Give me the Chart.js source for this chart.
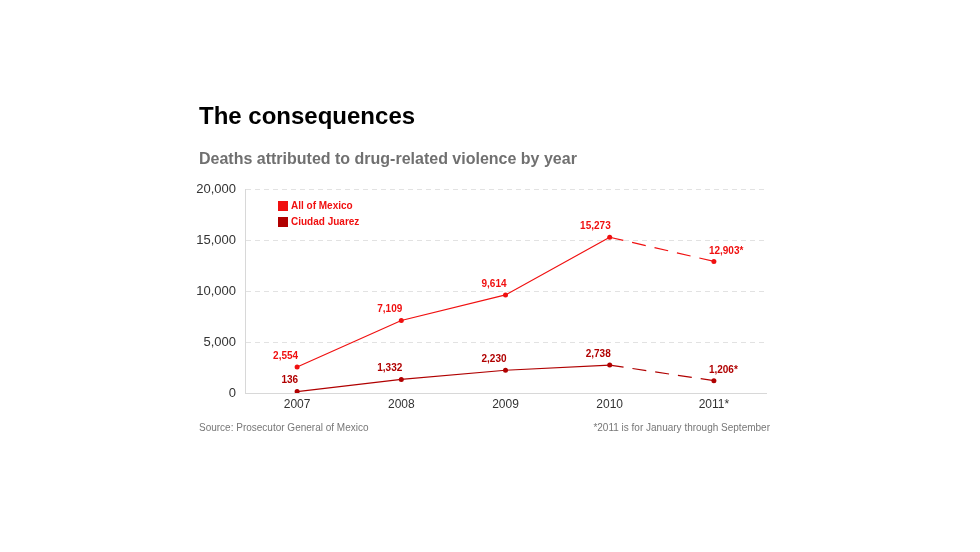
<!DOCTYPE html>
<html>
<head>
<meta charset="utf-8">
<script src="https://cdn.jsdelivr.net/npm/chart.js@4.4.1/dist/chart.umd.min.js"></script>
<style>
  html, body { margin: 0; padding: 0; background: #fff; }
  body { width: 980px; height: 552px; position: relative; overflow: hidden; font-family: Arial, "Liberation Sans", Helvetica, sans-serif; }
  #wrap { position: absolute; left: 0; top: 0; width: 980px; height: 552px; }
  .txt { position: absolute; white-space: nowrap; }
  #title { left: 199px; top: 102px; font-size: 24px; font-weight: bold; color: #000; }
  #subtitle { left: 199px; top: 150px; font-size: 16px; font-weight: bold; color: #707070; }
  #source { left: 199px; top: 422px; font-size: 10px; color: #777; }
  #note { right: 210px; top: 422px; font-size: 10px; color: #777; }
</style>
</head>
<body>
<div id="wrap"><canvas id="chart"></canvas></div>
<div class="txt" id="title">The consequences</div>
<div class="txt" id="subtitle">Deaths attributed to drug-related violence by year</div>
<div class="txt" id="source">Source: Prosecutor General of Mexico</div>
<div class="txt" id="note">*2011 is for January through September</div>
<script>
// data
const years = ['2007', '2008', '2009', '2010', '2011*'];
const mexicoDeaths = [2554, 7109, 9614, 15273, 12903];
const juarezDeaths = [136, 1332, 2230, 2738, 1206];
const seriesNames = ['All of Mexico', 'Ciudad Juarez'];
const yTicks = [0, 5000, 10000, 15000, 20000];

const RED = '#f01010';
const DARK = '#b00000';
const FONT = 'Arial, "Liberation Sans", Helvetica, sans-serif';

// last segment (2010 -> 2011) is partial year, drawn dashed
const dashLast = ctx => ctx.p1DataIndex === years.length - 1 ? [14, 9] : undefined;

// value labels over each point
const valueLabels = {
  id: 'valueLabels',
  afterDatasetsDraw(chart) {
    const c = chart.ctx;
    c.save();
    c.font = 'bold 10px ' + FONT;
    c.textBaseline = 'middle';
    chart.data.datasets.forEach((ds, i) => {
      const meta = chart.getDatasetMeta(i);
      meta.data.forEach((pt, j) => {
        const last = j === years.length - 1;
        let txt = ds.data[j].toLocaleString('en-US') + (last ? '*' : '');
        c.fillStyle = ds.labelColor;
        if (last) {
          c.textAlign = 'left';
          c.fillText(txt, pt.x - 5, pt.y - 10);
        } else {
          c.textAlign = 'right';
          c.fillText(txt, pt.x + 1, pt.y - 11);
        }
      });
    });
    c.restore();
  }
};

// small square legend inside the plot
const boxLegend = {
  id: 'boxLegend',
  afterDraw(chart) {
    const c = chart.ctx;
    c.save();
    c.font = 'bold 10px ' + FONT;
    c.textBaseline = 'middle';
    c.textAlign = 'left';
    const cols = [RED, DARK];
    seriesNames.forEach((name, i) => {
      const y = 206 + i * 16;
      c.fillStyle = cols[i];
      c.fillRect(278, y - 5, 10, 10);
      c.fillStyle = RED;
      c.fillText(name, 291, y);
    });
    c.restore();
  }
};

new Chart(document.getElementById('chart'), {
  type: 'line',
  data: {
    labels: years,
    datasets: [{
      label: seriesNames[0],
      data: mexicoDeaths,
      borderColor: RED,
      backgroundColor: RED,
      labelColor: RED,
      borderWidth: 1.2,
      pointRadius: 2.5,
      pointBackgroundColor: RED,
      pointBorderWidth: 0,
      tension: 0,
      segment: { borderDash: dashLast }
    }, {
      label: seriesNames[1],
      data: juarezDeaths,
      borderColor: DARK,
      backgroundColor: DARK,
      labelColor: DARK,
      borderWidth: 1.2,
      pointRadius: 2.5,
      pointBackgroundColor: DARK,
      pointBorderWidth: 0,
      tension: 0,
      segment: { borderDash: dashLast }
    }]
  },
  options: {
    responsive: true,
    maintainAspectRatio: false,
    animation: false,
    layout: { padding: { left: 190, right: 214, top: 189, bottom: 135 } },
    plugins: {
      legend: { display: false },
      tooltip: { enabled: false }
    },
    scales: {
      x: {
        offset: true,
        grid: { display: false, drawTicks: false },
        border: { display: true, color: '#d8d8d8' },
        ticks: { color: '#333', font: { family: FONT, size: 12 }, padding: 4 },
        afterFit: s => { s.height = 24; }
      },
      y: {
        min: 0,
        max: 20000,
        afterBuildTicks: s => { s.ticks = yTicks.map(v => ({ value: v })); },
        grid: { color: '#e2e2e2', drawTicks: false },
        border: { display: true, color: '#d8d8d8', dash: [5, 4] },
        ticks: {
          color: '#333',
          font: { family: FONT, size: 13 },
          padding: 9,
          callback: v => v.toLocaleString('en-US')
        },
        afterFit: s => { s.width = 55; }
      }
    }
  },
  plugins: [valueLabels, boxLegend]
});
</script>
</body>
</html>
